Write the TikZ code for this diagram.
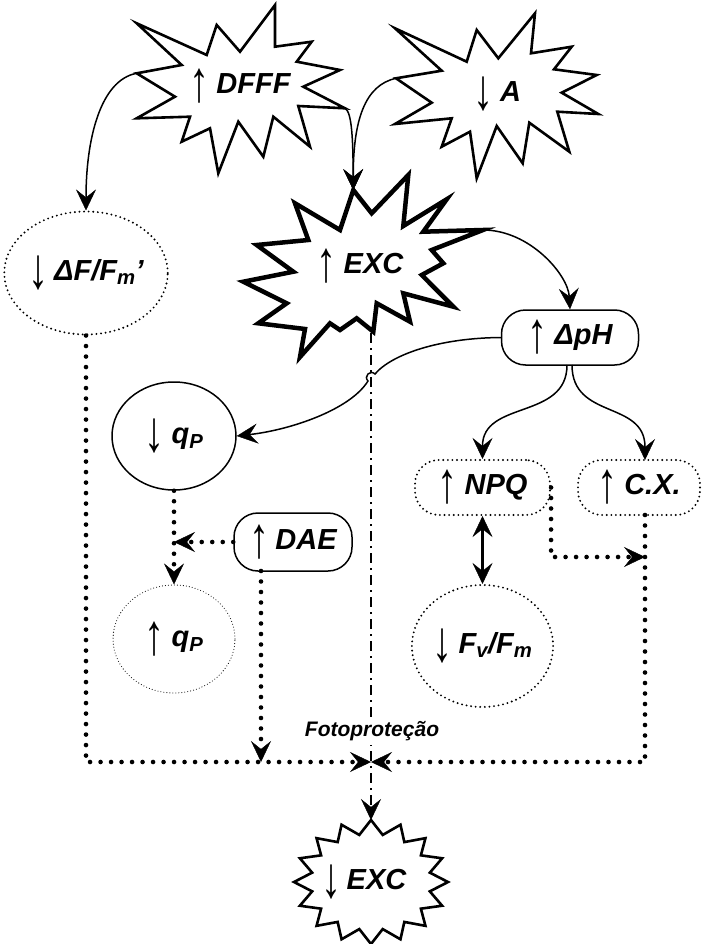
\documentclass[tikz,border=0pt]{standalone}
\usepackage{fontspec}
\usepackage{graphicx}
\setmainfont{Liberation Sans}
\usetikzlibrary{arrows.meta,shapes.geometric}
\newcommand\labsize{\fontsize{29}{31}\selectfont\bfseries\itshape}
\newcommand\myup{\raisebox{-8pt}{\scalebox{1}[1.45]{\fontsize{40}{40}\selectfont\mdseries\upshape ↑}}}
\newcommand\mydown{\raisebox{-8pt}{\scalebox{1}[1.45]{\fontsize{40}{40}\selectfont\mdseries\upshape ↓}}}
\begin{document}
\begin{tikzpicture}[x=1pt,y=-1pt,
  bigtip/.tip={Stealth[length=21pt,width=20pt,inset=8pt,line width=0.4pt]},
  lab/.style={font=\labsize, inner sep=0pt},
  conn/.style={line width=1.5pt,-bigtip},
  thickdot/.style={line width=4.6pt, line cap=round, dash pattern=on 0pt off 10.5pt},
  nodedot/.style={line width=2.1pt, line cap=round, dash pattern=on 0pt off 4.6pt},
  finedot/.style={line width=1.1pt, line cap=round, dash pattern=on 0pt off 3pt},
  dashdot/.style={line width=1.8pt, dash pattern=on 10pt off 5pt on 2pt off 5pt},
  solidbox/.style={draw, line width=1.5pt, rectangle, rounded corners=24pt, minimum height=55pt, inner sep=0pt, font=\labsize},
  dotbox/.style={draw, nodedot, rectangle, rounded corners=24pt, minimum height=55pt, inner sep=0pt, font=\labsize},
  oval/.style={ellipse, inner sep=0pt, font=\labsize},
  starthin/.style={draw, line width=2.6pt, line join=miter, fill=white},
  starthick/.style={draw, line width=4.5pt, line join=miter, fill=white}
]
\useasboundingbox (0,0) rectangle (702,944);

% ---- stars ----
\draw[starthin] (136.7,23.3) -- (206.7,55) -- (216.7,25) -- (240,51.7) -- (275,5) -- (275,46.7) -- (311.7,41.7) -- (296.7,61.7) -- (340,70) -- (303.3,86.7) -- (345,108.3) -- (298.3,106) -- (310,146.7) -- (273.3,116.7) -- (263.3,156.7) -- (238.3,121.7) -- (218.3,173.3) -- (210,128.3) -- (181.7,141.7) -- (190,116.7) -- (136.7,118.3) -- (175,96.7) -- (136.7,73.3) -- (181.7,65) -- cycle;
\node[lab] (dfff) at (240,86) {\myup\hspace{7pt}DFFF};
\coordinate (dfffL) at (136.7,73.3);
\coordinate (dfffR) at (345,108.3);

\draw[starthin] (395,28.3) -- (466.7,61.7) -- (476.7,30) -- (498.3,58.3) -- (535,13.3) -- (531,53.3) -- (571.7,46.7) -- (554,69.3) -- (596.7,75) -- (561.7,92.7) -- (598.3,114) -- (557.3,111.7) -- (569.3,151.7) -- (529.3,122.7) -- (522.7,163.3) -- (496.7,126) -- (476.7,178.3) -- (470,131.7) -- (441.7,146.7) -- (451.7,118.3) -- (395,124) -- (431.7,102.7) -- (396,78.3) -- (441.7,70.7) -- cycle;
\node[lab] (A) at (497,94) {\mydown\hspace{7pt}A};
\coordinate (AL) at (396,78.3);

\draw[starthick] (353.3,190) -- (371.7,213.3) -- (408.3,175) -- (403.3,226) -- (446.7,199.3) -- (423.3,231.7) -- (483,230) -- (431.7,250) -- (443.3,263.3) -- (421.7,275) -- (453.3,306.7) -- (403.3,293.3) -- (410,321.7) -- (376.7,303.3) -- (373.3,331.7) -- (356.7,318.3) -- (340,330) -- (330,323.3) -- (300,357) -- (305,329) -- (258.3,323.3) -- (286.7,303.3) -- (243.3,281.7) -- (293.3,271.7) -- (256.7,245) -- (308.3,240) -- (295,203.3) -- (340,230) -- cycle;
\node[lab] (exc) at (360,266) {\myup\hspace{7pt}EXC};
\coordinate (excT) at (353.3,190);
\coordinate (excR) at (483,230);
\coordinate (excB) at (371,333);

\draw[starthin] (371,820) \foreach \i in {0,2,...,30}{ -- ({371+60*sin((\i+1)*11.25)},{882-48*cos((\i+1)*11.25)}) -- ({371+77*sin((\i+2)*11.25)},{882-62*cos((\i+2)*11.25)}) } -- cycle;
\node[lab] (exc2) at (364,882) {\mydown\hspace{5pt}EXC};
\coordinate (botT) at (371,820);

% ---- other nodes ----
\node[oval, draw, nodedot, minimum width=144pt, minimum height=123pt] (dF) at (86,273) {\mydown\hspace{6pt}ΔF/F\textsubscript{m}’};
\node[solidbox, minimum width=137pt] (dpH) at (570,337.5) {\myup\hspace{7pt}ΔpH};
\node[oval, draw, line width=1.5pt, minimum width=124pt, minimum height=108pt] (qPd) at (174,436) {\mydown\hspace{7pt}q\textsubscript{P}};
\node[oval, draw, finedot, minimum width=122pt, minimum height=108pt] (qPu) at (174,639) {\myup\hspace{7pt}q\textsubscript{P}};
\node[solidbox, minimum width=118pt, minimum height=58pt] (DAE) at (293,542) {\myup\hspace{6pt}DAE};
\node[dotbox, minimum width=135pt] (NPQ) at (482.5,487.5) {\myup\hspace{7pt}NPQ};
\node[dotbox, minimum width=122pt] (CX) at (639,487.5) {\myup\hspace{7pt}C.X.};
\node[oval, draw, nodedot, minimum width=135pt, minimum height=122pt] (FvFm) at (482.5,646) {\mydown\hspace{6pt}F\textsubscript{v}/F\textsubscript{m}};

\coordinate (J) at (371,762);
\coordinate (cxT) at (645,460);
\coordinate (cxB) at (645,515);
\coordinate (cxM) at (645,557);
\coordinate (daeB) at (261,571);
\coordinate (dpHb1) at (567,365);
\coordinate (dpHb2) at (572,365);

% ---- solid connectors ----
\draw[conn] (dfffL) .. controls (100,80) and (86,140) .. (dF.north);
\draw[conn] (dfffR) .. controls (352,112) and (353,140) .. (excT);
\draw[conn] (AL) .. controls (365,85) and (353,120) .. (excT);
\draw[conn] (excR) .. controls (530,230) and (568,275) .. (dpH.north);
\draw[conn] (dpH.west) .. controls (440,338) and (392,354) .. (375,374)
   .. controls (370.3,369.3) and (363.3,376.3) .. (368,381)
   .. controls (350,410) and (290,430) .. (qPd.east);
\draw[conn] (dpHb1) .. controls (567,420) and (482.5,400) .. (NPQ.north);
\draw[conn] (dpHb2) .. controls (572,420) and (645,400) .. (cxT);
\draw[line width=2.2pt, bigtip-bigtip] (NPQ.south) -- (FvFm.north);

% ---- dash-dot ----
\draw[dashdot,-bigtip] (excB) -- (botT);
\node[font=\fontsize{21}{22}\selectfont\bfseries\itshape, inner sep=4pt, fill=white] (foto) at (372,731) {Fotoproteção};

% ---- dotted connectors ----
\draw[thickdot,-bigtip] (qPd.south) -- (qPu.north);
\draw[thickdot,-bigtip] (DAE.west) -- (qPd.south |- DAE.west);
\draw[thickdot,-bigtip] (daeB) -- (daeB |- J);
\draw[thickdot,-bigtip] (NPQ.east) -- (NPQ.east |- cxM) -- (cxM);
\draw[thickdot,-bigtip] (dF.south) -- (dF.south |- J) -- (J);
\draw[thickdot,-bigtip] (cxB) -- (cxB |- J) -- (J);
\end{tikzpicture}
\end{document}
